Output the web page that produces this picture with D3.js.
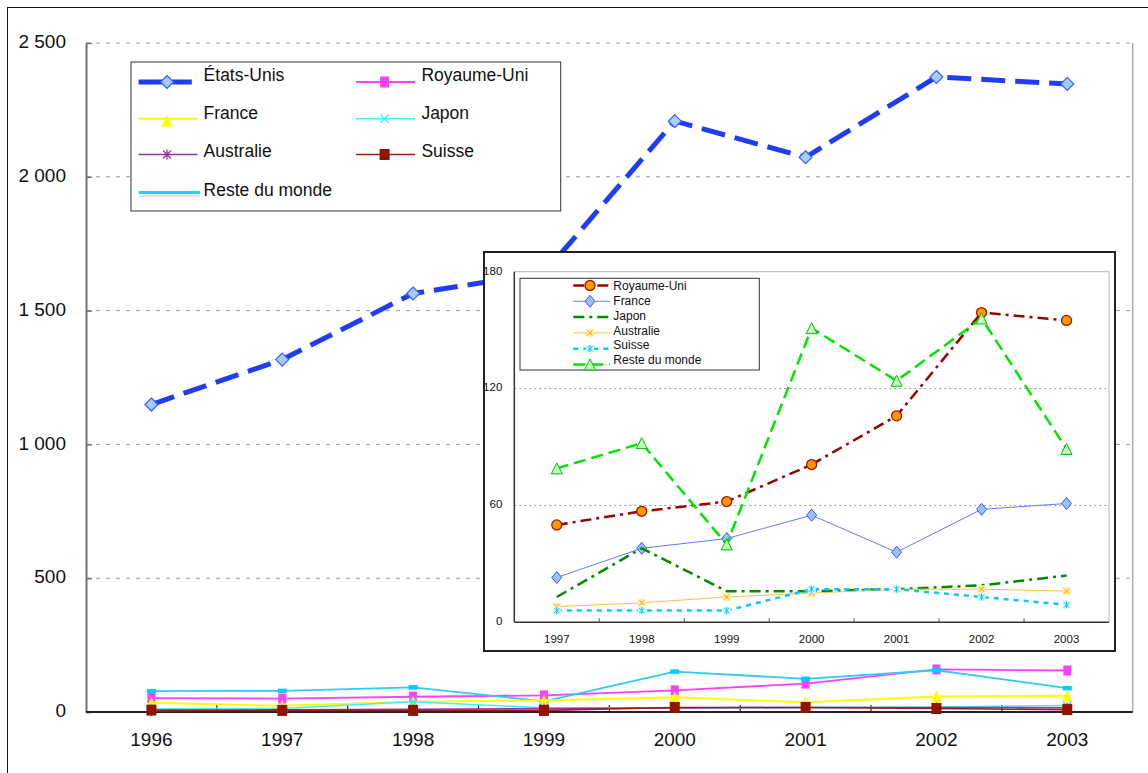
<!DOCTYPE html>
<html><head><meta charset="utf-8">
<script src="https://cdn.jsdelivr.net/npm/d3@7"></script>
<style>
html,body{margin:0;padding:0;background:#fff;}
svg{display:block;}
.narrow{font-family:"Liberation Sans Narrow","Arial Narrow","Liberation Sans",Arial,sans-serif;}
.reg{font-family:"Liberation Sans",Arial,sans-serif;}
</style></head>
<body>
<svg id="c" width="1148" height="773"></svg>
<script>
// ---------- DATA ----------
const years = ["1996","1997","1998","1999","2000","2001","2002","2003"];
const etatsUnis    = [1149, 1317, 1564, 1640, 2208, 2073, 2373, 2347];
const royaumeUni   = [52, 50, 57, 62, 81, 106, 159, 155];
const france       = [35, 23, 38, 43, 55, 36, 58, 61];
const japon        = [12, 13, 38, 16, 16, 17, 19, 24];
const australie    = [5, 8, 10, 13, 15, 17, 17, 16];
const suisse       = [7, 6, 6, 6, 17, 17, 13, 9];
const resteDuMonde = [78, 79, 92, 40, 151, 124, 156, 89];
const mainTicks = [0, 500, 1000, 1500, 2000, 2500];

const insetYears = ["1997","1998","1999","2000","2001","2002","2003"];
const insetTicks = [0, 60, 120, 180];
const mainNames = ["États-Unis","Royaume-Uni","France","Japon","Australie","Suisse","Reste du monde"];
const insetNames = ["Royaume-Uni","France","Japon","Australie","Suisse","Reste du monde"];

// ---------- SETUP ----------
const svg = d3.select("#c");
const fmt = d3.formatLocale({decimal:",", thousands:" ", grouping:[3], currency:["",""]}).format(",");

// outer frame
svg.append("rect").attr("x",7.5).attr("y",7.5).attr("width",1200).attr("height",800)
  .attr("fill","none").attr("stroke","#111").attr("stroke-width",1);

const x = d3.scaleBand().domain(years).range([86, 1132.7]);
const y = d3.scaleLinear().domain([0, 2500]).range([712, 43]);
const cx = d => x(d) + x.bandwidth()/2;

// gridlines
svg.append("g").selectAll("line").data(mainTicks.filter(t => t > 0)).join("line")
  .attr("x1", 86).attr("x2", 1132.7).attr("y1", d => y(d)).attr("y2", d => y(d))
  .attr("stroke", "#9a9a9a").attr("stroke-width", 1).attr("stroke-dasharray", "4,6");
// right plot border
svg.append("line").attr("x1",1132.7).attr("x2",1132.7).attr("y1",y(2500)).attr("y2",y(0))
  .attr("stroke","#b0b0b0").attr("stroke-width",1.5);

// y axis
const yAxis = d3.axisLeft(y).tickValues(mainTicks).tickFormat(d => fmt(d))
  .tickSizeInner(-6).tickSizeOuter(0).tickPadding(20);
const gy = svg.append("g").attr("transform","translate(86,0)").call(yAxis);
gy.select(".domain").attr("stroke","#707070").attr("stroke-width",2);
gy.selectAll(".tick line").attr("stroke","#707070").attr("stroke-width",1.5);
gy.selectAll("text").attr("class","narrow").attr("font-size",19).attr("fill","#111").attr("dy","0.25em");

// x axis
const xAxis = d3.axisBottom(x).tickSize(0).tickPadding(21);
const gx = svg.append("g").attr("transform","translate(0,712)").call(xAxis);
gx.select(".domain").remove();
gx.selectAll("text").attr("class","narrow").attr("font-size",19).attr("fill","#111");
svg.append("line").attr("x1",86).attr("x2",1132.7).attr("y1",712).attr("y2",712)
  .attr("stroke","#222").attr("stroke-width",2);
svg.append("g").selectAll("line").data(years.slice(1)).join("line")
  .attr("x1", d => x(d)).attr("x2", d => x(d)).attr("y1", 712).attr("y2", 705)
  .attr("stroke","#222").attr("stroke-width",1.2);

// ---------- marker helpers ----------
function marker(g, type, px, py, opt) {
  const o = Object.assign({}, opt);
  if (type === "diamond") {
    g.append("path").attr("d",`M${px},${py-o.h}L${px+o.w},${py}L${px},${py+o.h}L${px-o.w},${py}Z`)
      .attr("fill",o.fill).attr("stroke",o.stroke).attr("stroke-width",o.sw||1);
  } else if (type === "rect") {
    g.append("rect").attr("x",px-o.w/2).attr("y",py-o.h/2).attr("width",o.w).attr("height",o.h)
      .attr("fill",o.fill).attr("stroke",o.stroke||"none").attr("stroke-width",o.sw||0);
  } else if (type === "triangle") {
    g.append("path").attr("d",`M${px},${py-o.h/2}L${px+o.w/2},${py+o.h/2}L${px-o.w/2},${py+o.h/2}Z`)
      .attr("fill",o.fill).attr("stroke",o.stroke||"none").attr("stroke-width",o.sw||0);
  } else if (type === "x") {
    const s=o.s;
    g.append("path").attr("d",`M${px-s},${py-s}L${px+s},${py+s}M${px-s},${py+s}L${px+s},${py-s}`)
      .attr("stroke",o.stroke).attr("stroke-width",o.sw||1.2).attr("fill","none");
  } else if (type === "star") {
    const s=o.s;
    g.append("path").attr("d",`M${px-s},${py-s}L${px+s},${py+s}M${px-s},${py+s}L${px+s},${py-s}M${px},${py-s-1}L${px},${py+s+1}`)
      .attr("stroke",o.stroke).attr("stroke-width",o.sw||1.2).attr("fill","none");
  } else if (type === "circle") {
    g.append("circle").attr("cx",px).attr("cy",py).attr("r",o.r)
      .attr("fill",o.fill).attr("stroke",o.stroke).attr("stroke-width",o.sw||1);
  } else if (type === "boxx") {
    g.append("rect").attr("x",px-o.w/2).attr("y",py-o.w/2).attr("width",o.w).attr("height",o.w)
      .attr("fill",o.fill);
    const s=o.w/2-1.5;
    g.append("path").attr("d",`M${px-s},${py-s}L${px+s},${py+s}M${px-s},${py+s}L${px+s},${py-s}`)
      .attr("stroke",o.stroke).attr("stroke-width",1).attr("fill","none");
  } else if (type === "boxstar") {
    g.append("rect").attr("x",px-o.w/2).attr("y",py-o.w/2).attr("width",o.w).attr("height",o.w)
      .attr("fill",o.fill);
    const s=o.w/2-1.5;
    g.append("path").attr("d",`M${px-s},${py-s}L${px+s},${py+s}M${px-s},${py+s}L${px+s},${py-s}M${px},${py-s-1}L${px},${py+s+1}`)
      .attr("stroke",o.stroke).attr("stroke-width",1).attr("fill","none");
  }
}

// ---------- main series ----------
const mainSeries = [
  {name:mainNames[0], values:etatsUnis, color:"#1f3df5", width:5, dash:"24,10",
   mk:"diamond", mo:{w:6.5,h:6.5,fill:"#a6ccff",stroke:"#3a5cff",sw:1.2}},
  {name:mainNames[1], values:royaumeUni, color:"#ff40ff", width:1.8, dash:null,
   mk:"rect", mo:{w:8,h:10,fill:"#ff40ff"}},
  {name:mainNames[2], values:france, color:"#ffff00", width:2, dash:null,
   mk:"triangle", mo:{w:11,h:12,fill:"#ffff00"}},
  {name:mainNames[3], values:japon, color:"#40f0ff", width:1.5, dash:null,
   mk:"x", mo:{s:4,stroke:"#40e8ff",sw:1.3}},
  {name:mainNames[4], values:australie, color:"#9933aa", width:1.5, dash:null,
   mk:"star", mo:{s:4,stroke:"#9933aa",sw:1.3}},
  {name:mainNames[5], values:suisse, color:"#a01a10", width:1.6, dash:null,
   mk:"rect", mo:{w:10,h:11,fill:"#8f1400"}},
  {name:mainNames[6], values:resteDuMonde, color:"#30ccf5", width:1.8, dash:null,
   mk:"rect", mo:{w:9,h:4.5,fill:"#00ccff"}}
];
const line = d3.line().x((d,i) => cx(years[i])).y(d => y(d));
const gMain = svg.append("g");
const drawOrder = [0, 1, 6, 2, 3, 4, 5];
drawOrder.forEach(k => {
  const s = mainSeries[k];
  const g = gMain.append("g");
  g.append("path").attr("d", line(s.values)).attr("fill","none")
    .attr("stroke", s.color).attr("stroke-width", s.width)
    .attr("stroke-dasharray", s.dash).attr("stroke-linejoin","round");
  s.values.forEach((v,i) => marker(g, s.mk, cx(years[i]), y(v), s.mo));
});

// ---------- inset ----------
const gi = svg.append("g");
gi.append("rect").attr("x",484).attr("y",252).attr("width",631).attr("height",399)
  .attr("fill","#fff").attr("stroke","#222").attr("stroke-width",2);
const xi = d3.scaleBand().domain(insetYears).range([514.3, 1109]);
const yi = d3.scaleLinear().domain([0,180]).range([622.3, 271.7]);
const cxi = d => xi(d) + xi.bandwidth()/2;

gi.append("g").selectAll("line").data([60,120]).join("line")
  .attr("x1",514.3).attr("x2",1109).attr("y1",d=>yi(d)).attr("y2",d=>yi(d))
  .attr("stroke","#999").attr("stroke-width",1).attr("stroke-dasharray","2,3");
gi.append("path").attr("d",`M514.3,${yi(180)}L1109,${yi(180)}L1109,${yi(0)}`)
  .attr("fill","none").attr("stroke","#c0c0c0").attr("stroke-width",1.2);
gi.append("line").attr("x1",514.3).attr("x2",514.3).attr("y1",yi(180)).attr("y2",yi(0))
  .attr("stroke","#333").attr("stroke-width",1.5);
gi.append("line").attr("x1",514.3).attr("x2",1109).attr("y1",yi(0)).attr("y2",yi(0))
  .attr("stroke","#333").attr("stroke-width",1.5);
gi.append("g").selectAll("line").data(insetYears.slice(1)).join("line")
  .attr("x1",d=>xi(d)).attr("x2",d=>xi(d)).attr("y1",yi(0)).attr("y2",yi(0)-4)
  .attr("stroke","#555").attr("stroke-width",1);

const yiAxis = d3.axisLeft(yi).tickValues(insetTicks).tickSize(0).tickPadding(12);
const gyi = gi.append("g").attr("transform","translate(514.3,0)").call(yiAxis);
gyi.select(".domain").remove();
gyi.selectAll("text").attr("class","narrow").attr("font-size",11.5).attr("fill","#111").attr("dy","0.2em");
const xiAxis = d3.axisBottom(xi).tickSize(0).tickPadding(12.5);
const gxi = gi.append("g").attr("transform",`translate(0,${yi(0)})`).call(xiAxis);
gxi.select(".domain").remove();
gxi.selectAll("text").attr("class","narrow").attr("font-size",11.5).attr("fill","#111");

const insetData = [royaumeUni, france, japon, australie, suisse, resteDuMonde].map(a => a.slice(1));
const insetSeries = [
  {color:"#990000", width:2.5, dash:"11,5,3,5", mk:"circle", mo:{r:5,fill:"#ff9900",stroke:"#aa1100",sw:1.3}},
  {color:"#6677ff", width:1, dash:null, mk:"diamond", mo:{w:5,h:6,fill:"#99c2ff",stroke:"#3355ee",sw:1}},
  {color:"#008a00", width:2.5, dash:"11,5,3,5", mk:null},
  {color:"#ffbb44", width:1, dash:null, mk:"boxx", mo:{w:8,fill:"#fff099",stroke:"#ff9900"}},
  {color:"#00ccff", width:2.5, dash:"5,5", mk:"boxstar", mo:{w:8,fill:"#ccffff",stroke:"#00bbff"}},
  {color:"#00e600", width:2.5, dash:"12,6", mk:"triangle", mo:{w:11,h:11,fill:"#bfffbf",stroke:"#00bb00",sw:1}}
];
const linei = d3.line().x((d,i) => cxi(insetYears[i])).y(d => yi(d));
insetSeries.forEach((s,k) => {
  const g = gi.append("g");
  g.append("path").attr("d", linei(insetData[k])).attr("fill","none")
    .attr("stroke",s.color).attr("stroke-width",s.width).attr("stroke-dasharray",s.dash);
  if (s.mk) insetData[k].forEach((v,i) => marker(g, s.mk, cxi(insetYears[i]), yi(v), s.mo));
});

// inset legend
const gli = gi.append("g");
gli.append("rect").attr("x",520).attr("y",278.3).attr("width",239.3).attr("height",91.7)
  .attr("fill","#fff").attr("stroke","#333").attr("stroke-width",1);
insetNames.forEach((n,i) => {
  const ty = 286 + i*14.8, ly = 285.5 + i*15.8;
  const s = insetSeries[i];
  gli.append("line").attr("x1",573.3).attr("x2",610).attr("y1",ly).attr("y2",ly)
    .attr("stroke",s.color).attr("stroke-width",s.width).attr("stroke-dasharray",s.dash);
  if (s.mk) marker(gli, s.mk, 590, ly, s.mo);
  gli.append("text").attr("class","reg").attr("x",613.3).attr("y",ty).attr("dy","0.35em")
    .attr("font-size",12).attr("fill","#111").text(n);
});

// ---------- main legend ----------
const gl = svg.append("g");
gl.append("rect").attr("x",131).attr("y",62).attr("width",429.7).attr("height",149)
  .attr("fill","#fff").attr("stroke","#333").attr("stroke-width",1);
const legPos = [[0,0],[1,0],[0,1],[1,1],[0,2],[1,2],[0,3]];
mainSeries.forEach((s,i) => {
  const col = legPos[i][0], row = legPos[i][1];
  const base = 81 + row*38.2;
  const ly = [82, 118.8, 154.5, 192.5][row];
  const x0 = col ? 356 : 138.6, x1 = col ? 415 : (row === 0 ? 191.8 : 197.5);
  const mx = col ? 384.6 : 167;
  if (s.name === "Reste du monde") {
    gl.append("line").attr("x1",x0).attr("x2",200).attr("y1",ly).attr("y2",ly)
      .attr("stroke","#30ccf5").attr("stroke-width",3);
    gl.append("line").attr("x1",x0).attr("x2",200).attr("y1",ly+3.5).attr("y2",ly+3.5)
      .attr("stroke","#f0b0b0").attr("stroke-width",1);
  } else {
    gl.append("line").attr("x1",x0).attr("x2",x1).attr("y1",ly).attr("y2",ly)
      .attr("stroke",s.color).attr("stroke-width",s.width).attr("stroke-dasharray",s.dash);
    const mo = s.mk === "rect" && s.name === "Royaume-Uni" ? {w:9,h:11,fill:s.mo.fill} : s.mo;
    marker(gl, s.mk, mx, s.name === "France" ? ly+2 : ly, mo);
  }
  gl.append("text").attr("class","reg").attr("x", col ? 421.4 : 203.6).attr("y", base)
    .attr("font-size",17.5).attr("fill","#111").text(s.name);
});
</script>
</body></html>
